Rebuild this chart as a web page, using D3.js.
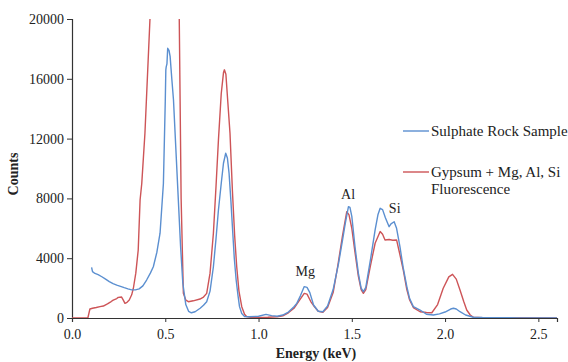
<!DOCTYPE html>
<html>
<head>
<meta charset="utf-8">
<script src="https://cdn.jsdelivr.net/npm/d3@7"></script>
<style>
  body { margin: 0; background: #fff; }
  svg { display: block; }
  svg text { font-family: "Liberation Serif", "DejaVu Serif", serif !important; fill: #222; }
</style>
</head>
<body>
<div id="chart"></div>
<script>
// Sulphate rock sample spectrum (energy in keV, counts)
const sulphateEnergy = [0.105, 0.110, 0.123, 0.14, 0.16, 0.18, 0.20, 0.22, 0.24, 0.26, 0.28, 0.30, 0.32, 0.34, 0.36, 0.38, 0.40, 0.42, 0.436, 0.455, 0.472, 0.49, 0.500, 0.503, 0.505, 0.509, 0.513, 0.52, 0.526, 0.535, 0.544, 0.556, 0.570, 0.582, 0.594, 0.610, 0.625, 0.640, 0.660, 0.687, 0.705, 0.722, 0.74, 0.758, 0.772, 0.785, 0.800, 0.812, 0.824, 0.833, 0.842, 0.852, 0.862, 0.870, 0.880, 0.890, 0.898, 0.910, 0.925, 0.95, 1.00, 1.04, 1.07, 1.10, 1.13, 1.16, 1.19, 1.205, 1.225, 1.245, 1.26, 1.275, 1.295, 1.32, 1.345, 1.37, 1.40, 1.429, 1.45, 1.465, 1.482, 1.49, 1.50, 1.517, 1.535, 1.55, 1.562, 1.575, 1.60, 1.625, 1.64, 1.652, 1.665, 1.68, 1.69, 1.70, 1.71, 1.727, 1.74, 1.758, 1.775, 1.795, 1.81, 1.83, 1.866, 1.90, 1.937, 1.97, 2.00, 2.03, 2.045, 2.06, 2.08, 2.11, 2.152, 2.2, 2.3, 2.4, 2.6];
const sulphateCounts = [3390, 3100, 2980, 2900, 2760, 2600, 2430, 2300, 2200, 2120, 2030, 1950, 1880, 1880, 1950, 2150, 2540, 3000, 3430, 4400, 5670, 9000, 14500, 16600, 16800, 17000, 18040, 17900, 17500, 16000, 14600, 11500, 7900, 4800, 2340, 900, 450, 350, 420, 650, 850, 1090, 1800, 3430, 5300, 7220, 9000, 10350, 11020, 10700, 9680, 7800, 5670, 4000, 2540, 1500, 760, 300, 100, 80, 120, 240, 160, 120, 200, 400, 750, 980, 1500, 2100, 2050, 1700, 870, 450, 420, 800, 1900, 3660, 5200, 6330, 7450, 7400, 6800, 4770, 3000, 2000, 1760, 2050, 3900, 5890, 6900, 7340, 7250, 6700, 6400, 6110, 6300, 6440, 6000, 4770, 3400, 2100, 1300, 760, 535, 250, 200, 280, 400, 600, 650, 600, 420, 200, 50, 30, 20, 10, 5];

// Gypsum + Mg, Al, Si fluorescence spectrum
const gypsumEnergy = [0.00, 0.085, 0.096, 0.11, 0.13, 0.15, 0.168, 0.19, 0.21, 0.221, 0.24, 0.248, 0.266, 0.275, 0.284, 0.295, 0.307, 0.32, 0.329, 0.342, 0.355, 0.365, 0.374, 0.391, 0.418, 0.45, 0.50, 0.55, 0.575, 0.585, 0.597, 0.61, 0.624, 0.65, 0.686, 0.705, 0.722, 0.74, 0.758, 0.772, 0.785, 0.800, 0.812, 0.817, 0.825, 0.835, 0.847, 0.860, 0.872, 0.883, 0.895, 0.91, 0.925, 0.937, 0.96, 1.00, 1.05, 1.10, 1.13, 1.16, 1.19, 1.22, 1.245, 1.26, 1.28, 1.30, 1.32, 1.345, 1.37, 1.40, 1.425, 1.45, 1.473, 1.485, 1.50, 1.517, 1.535, 1.55, 1.562, 1.575, 1.60, 1.625, 1.652, 1.665, 1.678, 1.70, 1.72, 1.74, 1.755, 1.776, 1.795, 1.81, 1.83, 1.866, 1.90, 1.929, 1.96, 1.99, 2.02, 2.04, 2.06, 2.08, 2.10, 2.116, 2.135, 2.152, 2.2, 2.6];
const gypsumCounts = [0, 0, 600, 650, 700, 760, 800, 950, 1100, 1200, 1300, 1380, 1400, 1200, 980, 1050, 1200, 1550, 1990, 3000, 4550, 7890, 9000, 12360, 20000, 30000, 36000, 30000, 20000, 8000, 1650, 1200, 1090, 1150, 1270, 1400, 1650, 3000, 5670, 8800, 11900, 15000, 16400, 16600, 16300, 14500, 12360, 8500, 5500, 3430, 1800, 760, 250, 90, 40, 40, 50, 80, 150, 350, 650, 1200, 1650, 1600, 1100, 750, 450, 380, 700, 1700, 3500, 5500, 7110, 6900, 6000, 4400, 2800, 1900, 1650, 1900, 3500, 5000, 5780, 5600, 5220, 5250, 5200, 5220, 4400, 3210, 1900, 1200, 700, 420, 370, 350, 900, 1990, 2750, 2920, 2600, 1870, 1100, 535, 200, 50, 20, 0];

const xTicks = [0.0, 0.5, 1.0, 1.5, 2.0, 2.5];
const yTicks = [0, 4000, 8000, 12000, 16000, 20000];
const peakLabels = ["Mg", "Al", "Si"];
const peakEnergy = [1.25, 1.48, 1.73];
const peakCounts = [2800, 7950, 7000];

const width = 568, height = 362;
const margin = {left: 72, right: 11, top: 19, bottom: 44};
const serif = "'Liberation Serif', 'DejaVu Serif', serif";

const svg = d3.select("#chart").append("svg")
    .attr("width", width)
    .attr("height", height)
    .style("font-family", serif);

const x = d3.scaleLinear().domain([0, 2.6]).range([margin.left, width - margin.right]);
const y = d3.scaleLinear().domain([0, 20000]).range([height - margin.bottom, margin.top]);

svg.append("defs").append("clipPath").attr("id", "plot-clip")
    .append("rect")
    .attr("x", margin.left)
    .attr("y", margin.top)
    .attr("width", width - margin.left - margin.right)
    .attr("height", height - margin.top - margin.bottom);

// axes
const xAxis = svg.append("g")
    .attr("transform", "translate(0," + y(0) + ")")
    .call(d3.axisBottom(x).tickValues(xTicks).tickFormat(d3.format(".1f")).tickSize(4));
const yAxis = svg.append("g")
    .attr("transform", "translate(" + x(0) + ",0)")
    .call(d3.axisLeft(y).tickValues(yTicks).tickFormat(d => d).tickSize(5));

for (let g of [xAxis, yAxis]) {
    g.attr("font-family", null).attr("font-size", null);
    g.select(".domain").attr("stroke", "#333").attr("stroke-width", 1.2);
    g.selectAll(".tick line").attr("stroke", "#333");
    g.selectAll(".tick text")
        .style("font-family", serif)
        .style("font-size", "14px")
        .attr("fill", "#333");
}
xAxis.selectAll(".tick text").attr("dy", "1.0em");
yAxis.selectAll(".tick text").attr("x", -8);

// spectra
const line = d3.line()
    .x(d => x(d[0]))
    .y(d => y(d[1]));

const series = [
    {name: "Gypsum + Mg, Al, Si", energy: gypsumEnergy, counts: gypsumCounts, color: "#cd5457"},
    {name: "Sulphate Rock Sample", energy: sulphateEnergy, counts: sulphateCounts, color: "#5b8fd0"}
];

const plot = svg.append("g").attr("clip-path", "url(#plot-clip)");
for (let s of series) {
    plot.append("path")
        .datum(s.energy.map((e, i) => [e, s.counts[i]]))
        .attr("fill", "none")
        .attr("stroke", s.color)
        .attr("stroke-width", 1.4)
        .attr("stroke-linejoin", "round")
        .attr("d", line);
}

// peak labels
svg.append("g").selectAll("text")
    .data(peakLabels)
    .enter().append("text")
    .attr("x", (d, i) => x(peakEnergy[i]))
    .attr("y", (d, i) => y(peakCounts[i]))
    .attr("text-anchor", "middle")
    .style("font-size", "14px")
    .text(d => d);

// axis titles
svg.append("text")
    .attr("x", 316)
    .attr("y", 358)
    .attr("text-anchor", "middle")
    .style("font-weight", "bold")
    .style("font-size", "14px")
    .text("Energy (keV)");
svg.append("text")
    .attr("transform", "translate(18,174) rotate(-90)")
    .attr("text-anchor", "middle")
    .style("font-weight", "bold")
    .style("font-size", "14px")
    .text("Counts");

// legend
const legend = svg.append("g");
const legendRows = [
    {lines: ["Sulphate Rock Sample"], color: "#5b8fd0", y: 131},
    {lines: ["Gypsum + Mg, Al, Si", "Fluorescence"], color: "#cd5457", y: 172}
];
for (let r of legendRows) {
    legend.append("line")
        .attr("x1", 403).attr("x2", 429)
        .attr("y1", r.y).attr("y2", r.y)
        .attr("stroke", r.color)
        .attr("stroke-width", 1.4);
    legend.append("text")
        .attr("x", 431)
        .attr("y", r.y + 5)
        .style("font-size", "15px")
        .selectAll("tspan")
        .data(r.lines)
        .enter().append("tspan")
        .attr("x", 431)
        .attr("dy", (d, i) => i ? "1.15em" : 0)
        .text(d => d);
}
</script>
</body>
</html>
